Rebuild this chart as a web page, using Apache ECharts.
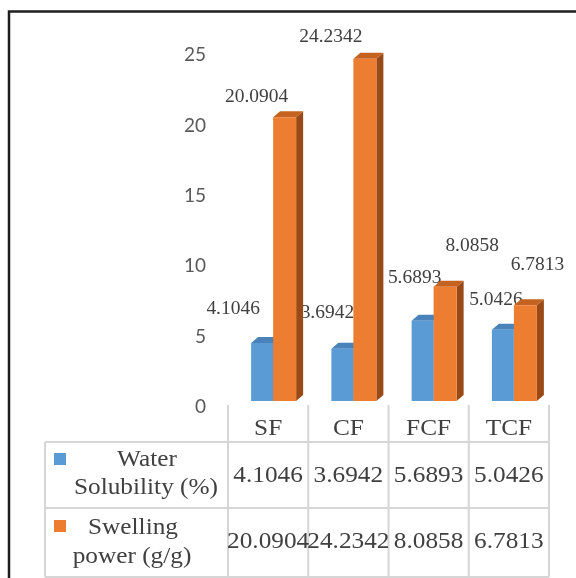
<!DOCTYPE html>
<html><head><meta charset="utf-8">
<script src="https://cdn.jsdelivr.net/npm/echarts@6/dist/echarts.min.js"></script>
<style>html,body{margin:0;padding:0;background:#fff}#c{width:576px;height:578px}</style>
</head><body><div id="c"></div>
<script>
// ---- data ----
const categories = ['SF', 'CF', 'FCF', 'TCF'];
const waterSolubility = [4.1046, 3.6942, 5.6893, 5.0426];
const swellingPower = [20.0904, 24.2342, 8.0858, 6.7813];
const seriesLines = [['Water', 'Solubility (%)'], ['Swelling', 'power (g/g)']];
const yMin = 0, yMax = 25, yInterval = 5;

// ---- styling (not data) ----
const labelOffsets = [
  [[-29, -34], [-15, -36], [-8, -42], [-7, -30]],
  [[-28, -20], [-34, -22], [27, -41], [12, -40]]
];
const barSpan = [[-17, 5], [5, 28]];
const depth = [7, -6];
const faces = [
  { front: '#5B9BD5', top: '#4A82BA', side: '#3E6FA0' },
  { front: '#ED7D31', top: '#C4621F', side: '#9A4A17' }
];
const SERIF = '"Liberation Serif", "Times New Roman", serif';
const TXT = '#404040';

function makeRender(si) {
  return function (params, api) {
    const i = api.value(0), v = api.value(1);
    const p0 = api.coord([i, 0]), p1 = api.coord([i, v]);
    const c = p0[0];
    const x0 = c + barSpan[si][0], x1 = c + barSpan[si][1];
    const yb = p0[1], yt = p1[1];
    const dx = depth[0], dy = depth[1];
    const col = faces[si];
    const off = labelOffsets[si][i];
    return {
      type: 'group',
      children: [
        { type: 'polygon', shape: { points: [[x1, yt], [x1 + dx, yt + dy], [x1 + dx, yb + dy], [x1, yb]] }, style: { fill: col.side } },
        { type: 'polygon', shape: { points: [[x0, yt], [x0 + dx, yt + dy], [x1 + dx, yt + dy], [x1, yt]] }, style: { fill: col.top } },
        { type: 'rect', shape: { x: x0, y: yt, width: x1 - x0, height: yb - yt }, style: { fill: col.front } },
        { type: 'text', x: (x0 + x1) / 2 + off[0], y: yt + off[1], scaleX: 1.08,
          style: { text: v.toFixed(4), fill: TXT, font: '18px ' + SERIF, align: 'center', verticalAlign: 'middle' } }
      ]
    };
  };
}

const chart = echarts.init(document.getElementById('c'), null, { renderer: 'canvas' });
const hidden = { axisLine: { show: false }, axisTick: { show: false }, splitLine: { show: false } };
chart.setOption({
  animation: false,
  backgroundColor: '#fff',
  grid: [
    { left: 228, right: 27, top: 48, bottom: 177, containLabel: false },
    { left: 228, right: 27, top: 55, bottom: 171, containLabel: false }
  ],
  xAxis: [
    Object.assign({ type: 'category', data: categories, gridIndex: 0, axisLabel: { show: false } }, hidden),
    Object.assign({ type: 'category', data: categories, gridIndex: 1, axisLabel: { show: false } }, hidden)
  ],
  yAxis: [
    Object.assign({ type: 'value', min: yMin, max: yMax, interval: yInterval, gridIndex: 0, axisLabel: { show: false } }, hidden),
    Object.assign({ type: 'value', min: yMin, max: yMax, interval: yInterval, gridIndex: 1,
      axisLabel: { color: '#595959', fontFamily: 'Lato', fontSize: 19, margin: 22 } }, hidden)
  ],
  series: [
    { name: seriesLines[0].join(' '), type: 'custom', renderItem: makeRender(0), xAxisIndex: 0, yAxisIndex: 0,
      data: waterSolubility.map((v, i) => [i, v]), encode: { x: 0, y: 1 }, z: 2 },
    { name: seriesLines[1].join(' '), type: 'custom', renderItem: makeRender(1), xAxisIndex: 0, yAxisIndex: 0,
      data: swellingPower.map((v, i) => [i, v]), encode: { x: 0, y: 1 }, z: 3 }
  ]
});

// ---- data table + frame ----
const centers = categories.map((_, i) => chart.convertToPixel({ xAxisIndex: 0 }, i));
const bw = centers.length > 1 ? centers[1] - centers[0] : 80;
const bounds = centers.map(c => c - bw / 2).concat([centers[centers.length - 1] + bw / 2]);
const tableLeft = 45, headTop = 405, row1Top = 442, row2Top = 508, tableBottom = 577;
const LINE = { stroke: '#D6D6D6', lineWidth: 2 };
const g = [];
bounds.forEach(x => g.push({ type: 'line', shape: { x1: x, y1: headTop, x2: x, y2: tableBottom }, style: LINE }));
[row1Top, row2Top, tableBottom].forEach(y => g.push({ type: 'line', shape: { x1: tableLeft, y1: y, x2: bounds[bounds.length - 1], y2: y }, style: LINE }));
g.push({ type: 'line', shape: { x1: tableLeft, y1: row1Top, x2: tableLeft, y2: tableBottom }, style: LINE });

function txt(s, x, y) {
  return { type: 'text', x: x, y: y, scaleX: 1.1,
    style: { text: s, fill: TXT, font: '23px ' + SERIF, align: 'center', verticalAlign: 'middle' } };
}
categories.forEach((c, i) => g.push(txt(c, centers[i], 429)));
waterSolubility.forEach((v, i) => g.push(txt(v.toFixed(4), centers[i], 476)));
swellingPower.forEach((v, i) => g.push(txt(v.toFixed(4), centers[i], 542)));
// legend keys + row headers
g.push({ type: 'rect', shape: { x: 54, y: 453, width: 12, height: 12 }, style: { fill: faces[0].front } });
g.push({ type: 'rect', shape: { x: 54, y: 520, width: 12, height: 12 }, style: { fill: faces[1].front } });
g.push(txt(seriesLines[0][0], 147, 460));
g.push(txt(seriesLines[0][1], 146, 488));
g.push(txt(seriesLines[1][0], 133, 528));
g.push(txt(seriesLines[1][1], 132, 557));
// outer frame (top and left edges visible)
g.push({ type: 'polyline', shape: { points: [[9, 578], [9, 11.5], [576, 11.5]] }, style: { stroke: '#1E1E1E', lineWidth: 2.5, fill: null } });

chart.setOption({ graphic: { elements: g.map(e => Object.assign({ silent: true, z: 10 }, e)) } });
</script>
</body></html>
